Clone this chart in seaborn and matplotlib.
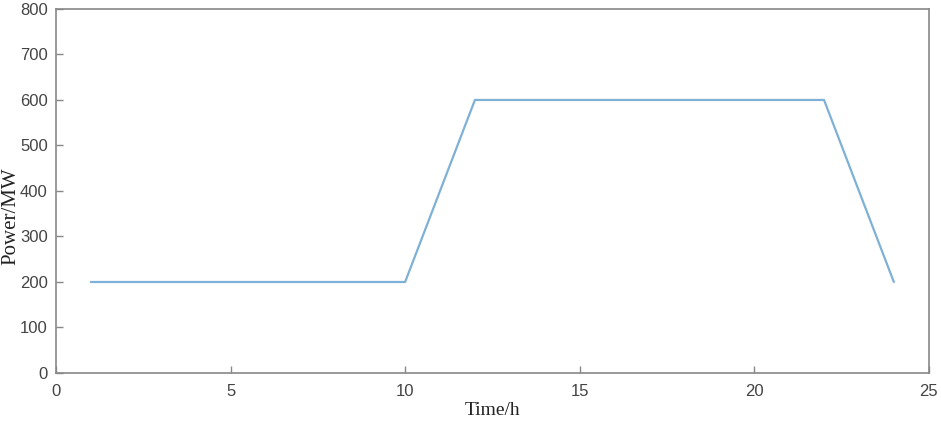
import pandas as pd
import seaborn as sns
import matplotlib
matplotlib.use('Agg')
import matplotlib.pyplot as plt

# hourly power profile
hours = [1, 2, 3, 4, 5, 6, 7, 8, 9, 10, 11, 12, 13, 14, 15, 16, 17, 18, 19, 20, 21, 22, 23, 24]
power = [200, 200, 200, 200, 200, 200, 200, 200, 200, 200, 400, 600,
         600, 600, 600, 600, 600, 600, 600, 600, 600, 600, 400, 200]
x_ticks = [0, 5, 10, 15, 20, 25]
y_ticks = [0, 100, 200, 300, 400, 500, 600, 700, 800]

df = pd.DataFrame({"Time": hours, "Power": power})

sns.set_style("white")
plt.rcParams['font.family'] = ['Liberation Sans', 'DejaVu Sans']

fig = plt.figure(figsize=(9.41, 4.26), dpi=100)
ax = fig.add_axes([0.0595, 0.1244, 0.9275, 0.8546])

sns.lineplot(data=df, x="Time", y="Power", ax=ax, color="#7fb0d6", linewidth=1.6)

ax.set_xlim(0, 25)
ax.set_ylim(0, 800)
ax.set_xticks(x_ticks)
ax.set_yticks(y_ticks)
ax.tick_params(bottom=True, left=True, top=False, right=False,
               direction='in', length=5, width=1, colors='#888888',
               labelcolor='#444444', labelsize=12, pad=8)
ax.tick_params(axis='y', pad=6)
for s in ax.spines.values():
    s.set_color('#888888')
    s.set_linewidth(1.2)

ax.set_xlabel("Time/h", family=['Liberation Serif'], fontsize=14, color='#222222', labelpad=2)
ax.set_ylabel("Power/MW", family=['Liberation Serif'], fontsize=15, color='#222222')
ax.yaxis.set_label_coords(-0.041, 0.43)

fig.savefig("out.png", dpi=100)
plt.close()
